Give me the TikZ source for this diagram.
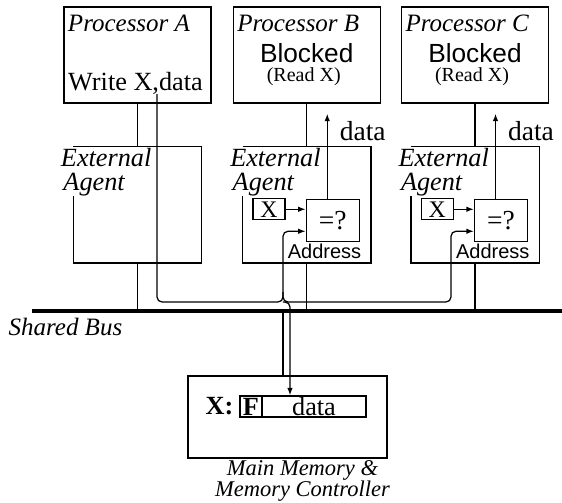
\documentclass[tikz,border=0pt]{standalone}
\usepackage{fontspec}
\setmainfont{Liberation Serif}
\setsansfont{Liberation Sans}
\usepackage{tikz}
\usetikzlibrary{arrows.meta,positioning,calc}
\tikzset{
    proc/.style={draw, minimum width=58.8pt, minimum height=38.4pt, inner sep=0pt},
    agent/.style={minimum width=50.8pt, minimum height=46pt, inner sep=0pt},
    cmp/.style={draw, minimum width=21.2pt, minimum height=16.8pt, inner sep=0pt, font=\fontsize{11}{12}\selectfont},
    reg/.style={draw, minimum width=12.8pt, minimum height=8.4pt, inner sep=0pt, font=\fontsize{9.5}{10}\selectfont},
    field/.style={draw, minimum height=8.4pt, inner sep=0pt, font=\fontsize{10.5}{12}\selectfont},
    mem/.style={draw, minimum width=79.6pt, minimum height=32.8pt, inner sep=0pt},
    ptitle/.style={inner sep=0pt, font=\fontsize{10}{12}\selectfont\itshape},
    ealabel/.style={inner sep=0pt, align=left, font=\fontsize{10.5}{9.6}\selectfont\itshape},
    wtext/.style={inner sep=0pt, font=\fontsize{10.5}{12}\selectfont},
    blk/.style={inner sep=0pt, font=\fontsize{10.5}{12}\sffamily},
    rdx/.style={inner sep=0pt, font=\fontsize{8}{9}\selectfont},
    dlbl/.style={inner sep=0pt, font=\fontsize{11}{12}\selectfont},
    addr/.style={inner sep=0pt, font=\fontsize{8}{9}\sffamily},
    mlbl/.style={inner sep=0pt, align=center, font=\fontsize{9}{8.5}\selectfont\itshape},
    blbl/.style={inner sep=0pt, font=\fontsize{10}{12}\selectfont\itshape},
    bus/.style={line width=1.6pt},
    sig/.style={-{Latex[length=3pt, width=2.2pt]}}
}
\begin{document}
\begin{tikzpicture}[x=0.4pt, y=-0.4pt, line width=0.5pt]
\useasboundingbox (0,0) rectangle (562,502);

\coordinate (busL) at (32,311);
\coordinate (busR) at (562,311);
\draw[bus] (busL) -- (busR);
\node[blbl, anchor=north west] (sb) at (8,318) {Shared Bus};

\node[proc] (pA) at (137.5,55) {};
\node[proc, right=8.4pt of pA] (pB) {};
\node[proc, right=8pt of pB] (pC) {};

\node[ptitle, anchor=north west] (tA) at ([shift={(4,8)}]pA.north west) {Processor A};
\node[ptitle, anchor=north west] (tB) at ([shift={(4,8)}]pB.north west) {Processor B};
\node[ptitle, anchor=north west] (tC) at ([shift={(4,8)}]pC.north west) {Processor C};

\node[wtext, anchor=base] (wA) at ([shift={(-2,35)}]pA.center) {Write X,data};
\node[blk, anchor=base] (bB) at ([shift={(0,7)}]pB.center) {Blocked};
\node[rdx, anchor=base] (rB) at ([shift={(-3,26)}]pB.center) {(Read X)};
\node[blk, anchor=base] (bC) at ([shift={(0,7)}]pC.center) {Blocked};
\node[rdx, anchor=base] (rC) at ([shift={(-3,26)}]pC.center) {(Read X)};

\node[agent, below=17.2pt of pA] (eA) {};
\node[agent, below=17.2pt of pB] (eB) {};
\node[agent, below=17.2pt of pC] (eC) {};

\foreach \n in {A,B,C} {
  \node[ealabel, anchor=north west] (l\n) at ([shift={(-13,1)}]e\n.north west) {External\\\hspace*{1pt}Agent};
  \draw (e\n.north west) -- (e\n.north east) -- (e\n.south east) -- (e\n.south west) -- ([yshift=-19.6pt]e\n.north west);
  \draw (p\n.south -| e\n.north) -- (e\n.north);
  \draw (e\n.south) -- (e\n.south |- busL);
}

\foreach \n in {B,C} {
  \node[cmp] (c\n) at ([shift={(26,15.5)}]e\n.center) {=?};
  \node[reg, left=8pt of c\n, yshift=4.4pt] (x\n) {X};
  \draw[sig] (x\n.east) -- (x\n.east -| c\n.west);
  \node[addr, anchor=north east] (ad\n) at ([shift={(2,1.5)}]c\n.south east) {Address};
  \coordinate (a\n) at ([yshift=-4.4pt]c\n.west);
  \coordinate (d\n) at ([shift={(-5.5,-85)}]c\n.north);
  \draw[sig] (c\n.north -| d\n) -- (d\n);
  \node[dlbl, anchor=north west] (dt\n) at ([shift={(12,7)}]d\n) {data};
}

\node[mem] (mM) at (287.5,417) {};
\node[field, draw=none] (mX) at (219.5,406.5) {\textbf{X:}};
\node[field, minimum width=8.8pt] (mF) at (251,406.5) {\textbf{F}};
\node[field, minimum width=41.6pt, right=-0.5pt of mF] (mD) {data\hspace{9pt}};
\node[mlbl, anchor=north] (mL) at ([shift={(15,1)}]mM.south) {Main Memory \&\\Memory Controller};

\coordinate (wr) at (157,94);
\coordinate (jB) at (283,302);
\coordinate (jM) at (290,302);
\coordinate (jC) at (451,302);
\draw[sig, rounded corners=2pt] (wr) |- (jB) |- (aB);
\draw[sig, rounded corners=2pt] ([yshift=4pt]jB) -- (jB) -- (jC) |- (aC);
\draw[sig, rounded corners=2pt] (jB) -- (jM) -- (jM |- mD.north);
\draw (mM.north -| jB) -- (jB |- busL);
\end{tikzpicture}
\end{document}
